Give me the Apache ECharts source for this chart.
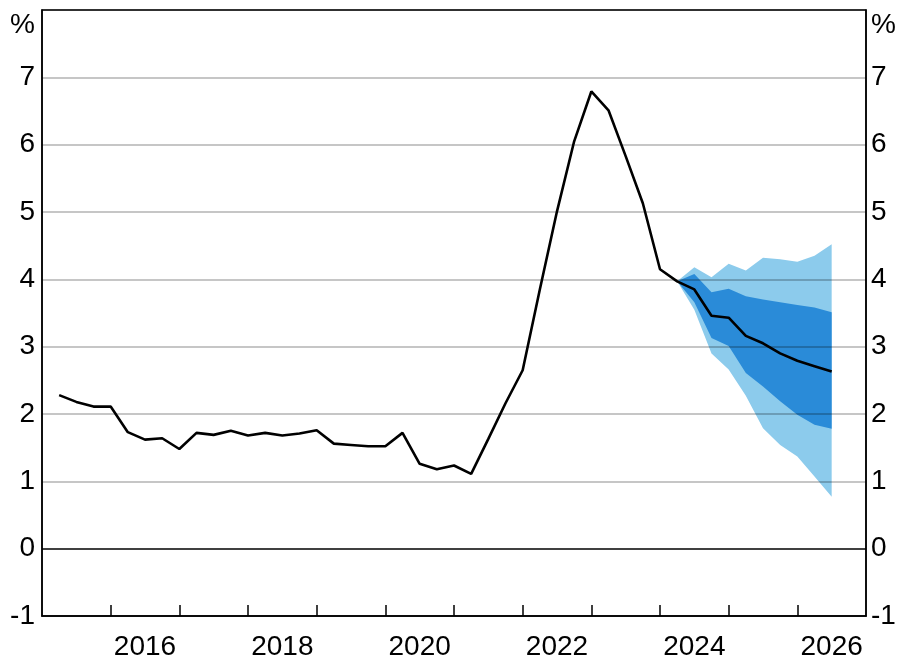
<!DOCTYPE html>
<html>
<head>
<meta charset="utf-8">
<script src="https://cdn.jsdelivr.net/npm/echarts@6/dist/echarts.min.js"></script>
<style>html,body{margin:0;padding:0;background:#fff}#c{width:900px;height:661px}</style>
</head>
<body>
<div id="c"></div>
<script>
// Quarters of the actual/central path
const quarters = [
 '2015Q2','2015Q3','2015Q4','2016Q1','2016Q2','2016Q3','2016Q4','2017Q1','2017Q2','2017Q3','2017Q4',
 '2018Q1','2018Q2','2018Q3','2018Q4','2019Q1','2019Q2','2019Q3','2019Q4','2020Q1','2020Q2','2020Q3','2020Q4',
 '2021Q1','2021Q2','2021Q3','2021Q4','2022Q1','2022Q2','2022Q3','2022Q4','2023Q1','2023Q2','2023Q3','2023Q4',
 '2024Q1','2024Q2','2024Q3','2024Q4','2025Q1','2025Q2','2025Q3','2025Q4','2026Q1','2026Q2','2026Q3'
];
const centralPath = [
 2.28,2.18,2.11,2.11,1.73,1.62,1.64,1.48,1.72,1.69,1.75,
 1.68,1.72,1.68,1.71,1.76,1.56,1.54,1.52,1.52,1.72,1.26,1.18,
 1.235,1.11,1.63,2.16,2.65,3.85,5.01,6.05,6.79,6.51,5.83,5.13,
 4.15,3.97,3.85,3.46,3.43,3.16,3.05,2.90,2.79,2.71,2.63
];
// Forecast fan quarters and bounds
const fanQuarters = ['2024Q2','2024Q3','2024Q4','2025Q1','2025Q2','2025Q3','2025Q4','2026Q1','2026Q2','2026Q3'];
const outerUpper = [3.97,4.18,4.03,4.23,4.13,4.32,4.30,4.26,4.35,4.52];
const innerUpper = [3.97,4.08,3.81,3.86,3.75,3.70,3.66,3.62,3.58,3.51];
const innerLower = [3.97,3.66,3.13,3.01,2.61,2.41,2.19,1.99,1.84,1.78];
const outerLower = [3.97,3.55,2.90,2.66,2.27,1.79,1.54,1.37,1.07,0.77];
// Axis ticks / labels
const yearTicks = [2016,2017,2018,2019,2020,2021,2022,2023,2024,2025,2026];
const yearLabels = ['2016','2018','2020','2022','2024','2026'];

function qToX(q){ return +q.slice(0,4) + (+q.slice(5) - 1) * 0.25; }
const fanX = fanQuarters.map(qToX);
const pairs = (xs, ys) => xs.map((x,i)=>[x, ys[i]]);

const FONT = "Liberation Sans";
const gridColors = [];
for (let v=-1; v<=8; v++) gridColors.push(v===0 ? '#000000' : 'rgba(0,0,0,0.3)');

function bandSeries(upper, lower, color){
  const data = fanX.map((x,i)=>[x, upper[i], lower[i]]);
  return {
    type:'custom', silent:true, z:1,
    data: data,
    encode:{x:0, y:[1,2]},
    renderItem: function(params, api){
      if (params.dataIndex !== 0) return null;
      const up = data.map(d=>api.coord([d[0], d[1]]));
      const lo = data.map(d=>api.coord([d[0], d[2]])).reverse();
      return {type:'polygon', shape:{points: up.concat(lo)}, style:{fill:color, stroke:null}};
    }
  };
}

const yCommon = {
  type:'value', min:-1, max:8, interval:1, z:3,
  axisLine:{show:true, lineStyle:{color:'#000', width:1.5}},
  axisTick:{show:false},
  axisLabel:{fontSize:28, fontFamily:FONT, color:'#000',
    formatter: v => v===8 ? '' : String(v)}
};

const chart = echarts.init(document.getElementById('c'), null, {renderer:'canvas'});
chart.setOption({
  animation:false,
  grid:{left:42, right:34, top:10, bottom:44, show:true, borderColor:'#000', borderWidth:1.5, backgroundColor:'transparent'},
  xAxis:{
    type:'value', min:2015, max:2027, z:3,
    axisLine:{show:true, onZero:false, lineStyle:{color:'#000', width:1.5}},
    axisTick:{show:true, inside:true, length:11, lineStyle:{color:'#000', width:1.5}, customValues: yearTicks},
    axisLabel:{fontSize:28, fontFamily:FONT, color:'#000', margin:17,
      customValues: yearLabels.map(y=>+y+0.5), formatter: v => String(Math.floor(v))},
    splitLine:{show:false}
  },
  yAxis:[
    Object.assign({}, yCommon, {position:'left', axisLabel:Object.assign({}, yCommon.axisLabel, {margin:7}),
      splitLine:{show:true, lineStyle:{color:gridColors, width:1.5}}}),
    Object.assign({}, yCommon, {position:'right', axisLabel:Object.assign({}, yCommon.axisLabel, {margin:5}),
      splitLine:{show:false}})
  ],
  graphic:[
    {type:'text', x:35, y:25, style:{text:'%', fontSize:28, fontFamily:FONT, fill:'#000', align:'right', verticalAlign:'middle'}},
    {type:'text', x:871, y:25, style:{text:'%', fontSize:28, fontFamily:FONT, fill:'#000', align:'left', verticalAlign:'middle'}}
  ],
  series:[
    bandSeries(outerUpper, outerLower, '#8ccbec'),
    bandSeries(innerUpper, innerLower, '#2a8bd8'),
    {type:'line', data:pairs(quarters.map(qToX), centralPath), symbol:'none',
      lineStyle:{color:'#000', width:2.6}, z:5}
  ]
});
</script>
</body>
</html>
